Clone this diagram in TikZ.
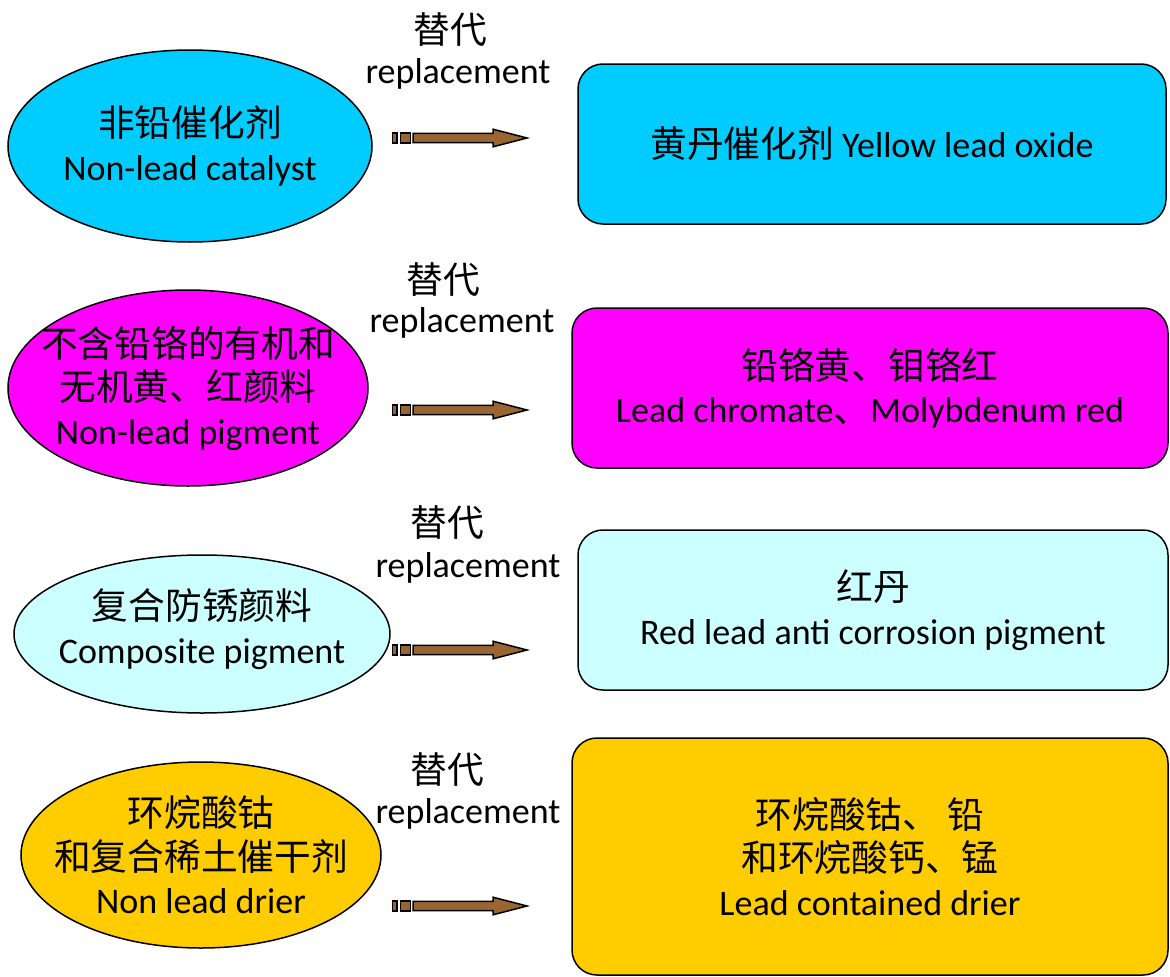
\documentclass[tikz,border=0pt]{standalone}
\usepackage{fontspec}
\setmainfont{Carlito}
\newfontfamily\cjk[Scale=1.02]{Noto Sans CJK SC}
\usetikzlibrary{shapes.geometric}
\newcommand\zh[1]{{\cjk #1}}
\definecolor{skyfill}{RGB}{0,204,255}
\definecolor{pinkfill}{RGB}{255,0,255}
\definecolor{icefill}{RGB}{204,255,255}
\definecolor{goldfill}{RGB}{255,204,0}
\definecolor{arrowbrown}{RGB}{153,102,51}

\begin{document}
\begin{tikzpicture}[x=1pt,y=-1pt,
    every node/.style={font=\fontsize{36}{43.5}\selectfont, align=center, inner sep=0pt},
    source/.style={ellipse, draw, line width=1.5pt, inner xsep=-80pt, inner ysep=-15pt},
    target/.style={rectangle, rounded corners=25pt, draw, line width=1.5pt},
    arrowbody/.style={fill=arrowbrown, draw=black, line width=1.5pt}]
    \useasboundingbox (0,0) rectangle (1170,977);
    % left: the replacements
    \node[source, fill=skyfill, minimum width=364pt, minimum height=192pt] (src1) at (190,146)
        {\zh{非铅催化剂}\\Non-lead catalyst};
    \node[source, fill=pinkfill, minimum width=360pt, minimum height=196pt] (src2) at (188,388)
        {\zh{不含铅铬的有机和}\\\zh{无机黄、红颜料}\\Non-lead pigment};
    \node[source, fill=icefill, minimum width=376pt, minimum height=158pt] (src3) at (202,634)
        {\zh{复合防锈颜料}\\Composite pigment\\[-28pt]};
    \node[source, fill=goldfill, minimum width=360pt, minimum height=186pt] (src4) at (201,855)
        {\zh{环烷酸钴}\\\zh{和复合稀土催干剂}\\Non lead drier};
    % right: the lead products
    \node[target, fill=skyfill, minimum width=588pt, minimum height=160pt] (tgt1) at (872,144)
        {\zh{黄丹催化剂} Yellow lead oxide};
    \node[target, fill=pinkfill, minimum width=596pt, minimum height=160pt] (tgt2) at (870,388)
        {\zh{铅铬黄、钼铬红}\\Lead chromate\zh{、}Molybdenum red};
    \node[target, fill=icefill, minimum width=590pt, minimum height=160pt] (tgt3) at (873,610)
        {\zh{红丹}\\Red lead anti corrosion pigment};
    \node[target, fill=goldfill, minimum width=596pt, minimum height=237pt] (tgt4) at (870,856.5)
        {\zh{环烷酸钴、 铅}\\\zh{和环烷酸钙、锰}\\Lead contained drier};
    % arrows with their labels
    \foreach \i/\y/\zx/\zy/\rx/\ry in {1/138/450/30/458/74, 2/410/443/280/462/323,
                                      3/650/447/523/468/568, 4/906/447/770/468/814}
    {
        \node (sub\i) at (\zx,\zy) {\zh{替代}};
        \node (rep\i) at (\rx,\ry) {replacement};
        \coordinate (arr\i) at (392,\y);
        \filldraw[arrowbody] (arr\i) ++(0.7,-5) rectangle ++(4.3,10);
        \filldraw[arrowbody] (arr\i) ++(8.7,-5) rectangle ++(10,10);
        \filldraw[arrowbody] (arr\i) ++(21,-4.7) -- ++(80,0) -- ++(0,-4.1) -- ++(34,8.8)
            -- ++(-34,8.8) -- ++(0,-4.1) -- ++(-80,0) -- cycle;
    }
\end{tikzpicture}
\end{document}
